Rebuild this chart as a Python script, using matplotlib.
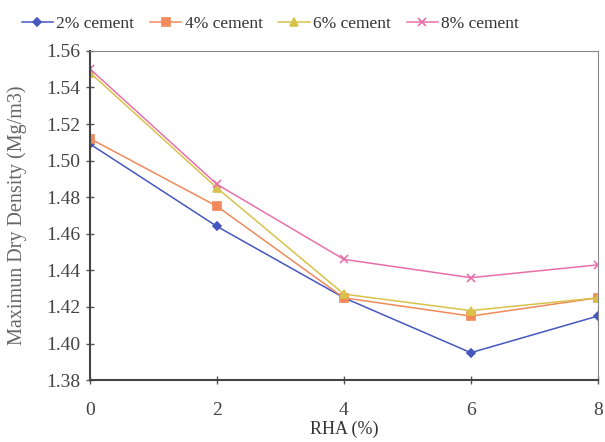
import matplotlib
matplotlib.use('Agg')
import matplotlib.pyplot as plt

plt.rcParams['font.family'] = ['Liberation Serif', 'DejaVu Serif']

rha = [0, 2, 4, 6, 8]
cement_2 = [1.509, 1.464, 1.425, 1.395, 1.415]
cement_4 = [1.512, 1.475, 1.425, 1.415, 1.425]
cement_6 = [1.548, 1.485, 1.427, 1.418, 1.425]
cement_8 = [1.550, 1.487, 1.446, 1.436, 1.443]

series = [
    ('2% cement', cement_2, '#4658c0', 'D', 4),
    ('4% cement', cement_4, '#f08a5a', 's', 6),
    ('6% cement', cement_6, '#d8c24a', '^', 6),
    ('8% cement', cement_8, '#e870a8', 'x', 6),
]

fig = plt.figure(figsize=(6.05, 4.42), dpi=100)
ax = fig.add_axes([0.149, 0.140, 0.839, 0.745])

for label, vals, color, mk, ms in series:
    ax.plot(rha, vals, color=color, marker=mk, markersize=ms, lw=1.1,
            label=label, markeredgewidth=1.2)

ax.set_xlim(0, 8)
ax.set_ylim(1.38, 1.56)
ax.set_xticks(rha)
ax.set_yticks([1.38 + 0.02 * i for i in range(10)])
ax.yaxis.set_major_formatter(matplotlib.ticker.FormatStrFormatter('%.2f'))
ax.tick_params(axis='both', direction='inout', length=6, width=1,
               color='#555555', labelsize=14, labelcolor='#444444')
ax.tick_params(axis='x', pad=13)
ax.tick_params(axis='y', pad=4)
for s in ax.spines.values():
    s.set_color('#888888')
ax.spines['left'].set_color('#444444')
ax.spines['bottom'].set_color('#444444')
ax.spines['left'].set_linewidth(1.5)
ax.spines['bottom'].set_linewidth(1.5)

ax.set_xlabel('RHA (%)', fontsize=13, color='#333333', labelpad=1)
ax.set_ylabel('Maximun Dry Density (Mg/m3)', fontsize=14.5, color='#666666')
ax.yaxis.set_label_coords(-0.125, 0.5)

fig.legend(loc='upper left', bbox_to_anchor=(0.01, 1.0), ncol=4, frameon=False,
           fontsize=12.5, handlelength=1.8, columnspacing=0.9, handletextpad=0.2,
           labelcolor='#333333')

fig.savefig('out.png', dpi=100)
